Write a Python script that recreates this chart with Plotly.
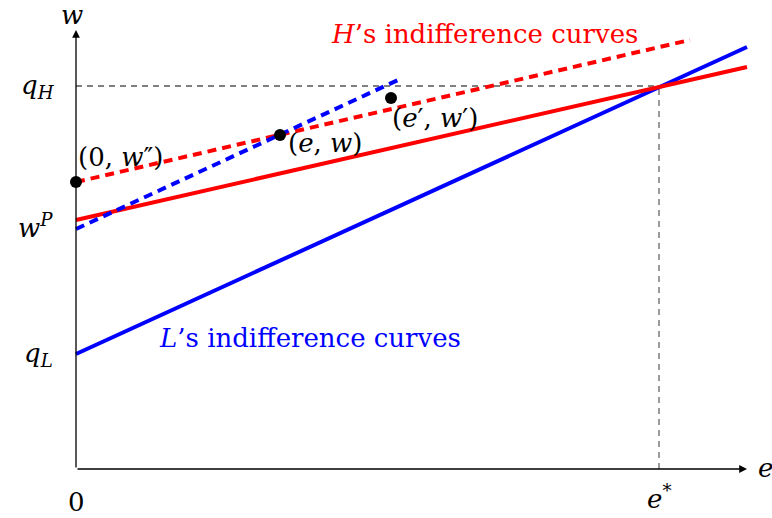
import plotly.graph_objects as go

# ---- data (diagram units) ----
e_star = 5.83
q_H = 3.83
q_L = 1.15
w_P = 2.49
w_dd = 2.87            # w''
x_max = 6.71           # end of the e axis
y_max = 4.39           # end of the w axis

L_solid_e = [0.0, 6.71]
L_solid_w = [1.15, 4.22]
H_solid_e = [0.0, 6.71]
H_solid_w = [2.49, 4.02]
H_dash_e = [0.0, 6.14]
H_dash_w = [2.87, 4.29]
L_dash_e = [0.0, 3.22]
L_dash_w = [2.40, 3.89]

pts_e = [0.0, 2.04, 3.15]
pts_w = [2.87, 3.34, 3.71]

FONT = "DejaVu Serif"
RED = "#ff0000"
BLUE = "#0000ff"

fig = go.Figure()

# reference dashed lines
fig.add_trace(go.Scatter(x=[0, e_star], y=[q_H, q_H], mode="lines",
                         line=dict(color="black", width=1, dash="6px,5px"), hoverinfo="skip"))
fig.add_trace(go.Scatter(x=[e_star, e_star], y=[0, q_H], mode="lines",
                         line=dict(color="#666666", width=1.3, dash="6px,5px"), hoverinfo="skip"))

# curves
fig.add_trace(go.Scatter(x=L_solid_e, y=L_solid_w, mode="lines",
                         line=dict(color=BLUE, width=4), hoverinfo="skip"))
fig.add_trace(go.Scatter(x=H_solid_e, y=H_solid_w, mode="lines",
                         line=dict(color=RED, width=4), hoverinfo="skip"))
fig.add_trace(go.Scatter(x=H_dash_e, y=H_dash_w, mode="lines",
                         line=dict(color=RED, width=4, dash="9px,6px"), hoverinfo="skip"))
fig.add_trace(go.Scatter(x=L_dash_e, y=L_dash_w, mode="lines",
                         line=dict(color=BLUE, width=4, dash="9px,6px"), hoverinfo="skip"))

# points
fig.add_trace(go.Scatter(x=pts_e, y=pts_w, mode="markers",
                         marker=dict(color="black", size=12), hoverinfo="skip"))

ann = []
# axes with arrows
ann.append(dict(x=x_max, y=0, ax=0, ay=0, xref="x", yref="y", axref="x", ayref="y",
                showarrow=True, arrowhead=2, arrowsize=1.2, arrowwidth=1.3, arrowcolor="black", text=""))
ann.append(dict(x=0, y=y_max, ax=0, ay=0, xref="x", yref="y", axref="x", ayref="y",
                showarrow=True, arrowhead=2, arrowsize=1.2, arrowwidth=1.3, arrowcolor="black", text=""))

def txt(x, y, s, color="black", size=26, xanchor="center", yanchor="middle"):
    ann.append(dict(x=x, y=y, xref="x", yref="y", text=s, showarrow=False,
                    font=dict(family=FONT, size=size, color=color),
                    xanchor=xanchor, yanchor=yanchor))

txt(-0.04, y_max + 0.15, "<i>w</i>")
txt(x_max + 0.18, 0.01, "<i>e</i>")
txt(0, -0.33, "0")
txt(e_star, -0.28, "<i>e</i><sup>*</sup>")
txt(-0.38, q_H, "<i>q</i><sub><i>H</i></sub>")
txt(-0.41, w_P - 0.06, "<i>w</i><sup><i>P</i></sup>")
txt(-0.38, q_L, "<i>q</i><sub><i>L</i></sub>")

txt(4.08, 4.35, "<i>H</i>’s indifference curves", color=RED)
txt(2.34, 1.31, "<i>L</i>’s indifference curves", color=BLUE)
txt(0.0, 3.12, "(0, <i>w</i>″)", xanchor="left")
txt(2.1, 3.26, "(<i>e</i>, <i>w</i>)", xanchor="left")
txt(3.14, 3.51, "(<i>e</i>′, <i>w</i>′)", xanchor="left")

fig.update_layout(
    width=772, height=518,
    margin=dict(l=0, r=0, t=0, b=0),
    plot_bgcolor="white", paper_bgcolor="white",
    showlegend=False,
    xaxis=dict(range=[-0.76, 6.96], visible=False, fixedrange=True),
    yaxis=dict(range=[-0.49, 4.69], visible=False, fixedrange=True),
    annotations=ann,
)

# remove the default page margin so the figure fills the window exactly
fig.write_html("out.html",
               config={"displayModeBar": False, "staticPlot": True},
               post_script="document.body.style.margin='0';document.body.style.overflow='hidden';")
